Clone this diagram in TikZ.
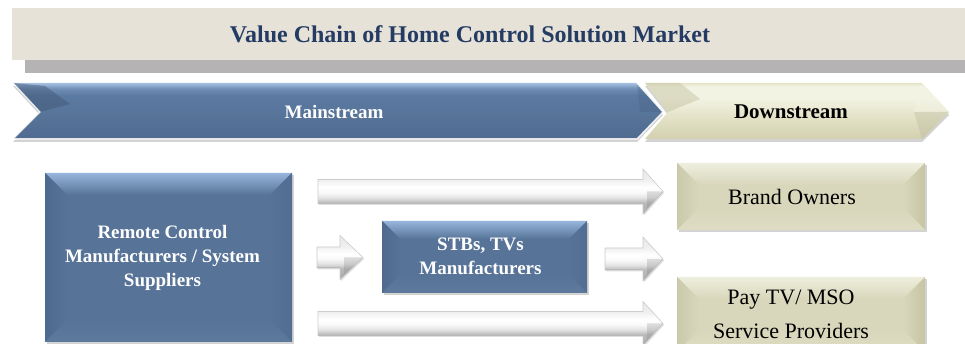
\documentclass[tikz,border=0pt]{standalone}
\usepackage{fontspec}
\setmainfont{Liberation Serif}
\usetikzlibrary{calc,shadows}

% palette
\definecolor{bannerbg}{HTML}{E6E2D8}
\definecolor{bannershadow}{HTML}{B5B3B3}
\definecolor{titleblue}{HTML}{243B63}
\definecolor{bluehi}{HTML}{A4C0E2}
\definecolor{bluemid}{HTML}{5B7AA2}
\definecolor{bluelow}{HTML}{506A90}
\definecolor{blueface}{HTML}{577398}
\definecolor{bluetop}{HTML}{96B5DA}
\definecolor{blueleft}{HTML}{4F6A8F}
\definecolor{blueright}{HTML}{516D92}
\definecolor{bluebottom}{HTML}{5D799C}
\definecolor{beigehi}{HTML}{F3F3E4}
\definecolor{beigemid}{HTML}{E4E3C8}
\definecolor{beigelow}{HTML}{D2D0AE}
\definecolor{beigeface}{HTML}{D8D7BB}
\definecolor{beigetop}{HTML}{EEEEDE}
\definecolor{beigeleft}{HTML}{CBC9AC}
\definecolor{beigeright}{HTML}{C6C4A3}
\definecolor{beigebottom}{HTML}{DEDDC4}

% vertical shadings (the filled path spans 25bp..75bp)
\pgfdeclareverticalshading{mainshade}{100bp}{
  color(0bp)=(bluelow); color(25bp)=(bluelow); color(45bp)=(blueface);
  color(64bp)=(bluemid); color(70bp)=(bluemid!70!bluehi); color(75bp)=(bluehi); color(100bp)=(bluehi)}
\pgfdeclareverticalshading{downshade}{100bp}{
  color(0bp)=(beigelow); color(25bp)=(beigelow); color(45bp)=(beigemid);
  color(62bp)=(beigehi); color(72bp)=(beigehi); color(75bp)=(beigemid); color(100bp)=(beigemid)}
\pgfdeclareverticalshading{arrowshade}{100bp}{
  color(0bp)=(gray!65); color(25bp)=(gray!65); color(37.5bp)=(gray!55);
  color(43bp)=(gray!22); color(49bp)=(gray!4); color(55bp)=(white);
  color(62.5bp)=(gray!12); color(75bp)=(gray!18); color(100bp)=(gray!18)}

\tikzset{
  bluebox/.style={rectangle, outer sep=0pt, inner sep=0pt,
    fill=blueface,
    drop shadow={shadow xshift=2pt, shadow yshift=-2pt, opacity=.35}},
  beigebox/.style={rectangle, outer sep=0pt, inner sep=0pt,
    fill=beigeface,
    drop shadow={shadow xshift=2pt, shadow yshift=-2.5pt, opacity=.35}},
  bluetext/.style={align=center, text=white, font=\fontsize{19}{24}\selectfont\bfseries},
  beigetext/.style={align=center, text=black, font=\fontsize{22}{34}\selectfont},
  blockarrowstyle/.style={shading=arrowshade, draw=gray!40, line width=.6pt,
    drop shadow={shadow xshift=1pt, shadow yshift=-1.5pt, opacity=.25}},
  chevronshadow/.style={drop shadow={shadow xshift=0pt, shadow yshift=-3pt, opacity=.35}},
}

% bevel facets on the four sides of a rectangular node
% #1 node, #2 bevel size, #3 top, #4 left, #5 right, #6 bottom, #7 face
\newcommand\bevelfacets[7]{%
  \path[top color=#3, bottom color=#7] (#1.north west) -- (#1.north east) -- ([xshift=-#2pt,yshift=-#2pt]#1.north east) -- ([xshift=#2pt,yshift=-#2pt]#1.north west) -- cycle;
  \path[left color=#4, right color=#7] (#1.north west) -- ([xshift=#2pt,yshift=-#2pt]#1.north west) -- ([xshift=#2pt,yshift=#2pt]#1.south west) -- (#1.south west) -- cycle;
  \path[right color=#5, left color=#7] (#1.north east) -- ([xshift=-#2pt,yshift=-#2pt]#1.north east) -- ([xshift=-#2pt,yshift=#2pt]#1.south east) -- (#1.south east) -- cycle;
  \path[bottom color=#6, top color=#7] (#1.south west) -- ([xshift=#2pt,yshift=#2pt]#1.south west) -- ([xshift=-#2pt,yshift=#2pt]#1.south east) -- (#1.south east) -- cycle;
}

% block arrow from #1 to #2 (along the y of #1): body half-width #3, head half-width #4, head length #5
\newcommand\blockarrow[5]{%
  \path[blockarrowstyle] let \p1=(#1), \p2=(#2) in
    (\x1,\y1+#3pt) -- (\x2-#5pt,\y1+#3pt) -- (\x2-#5pt,\y1+#4pt) -- (\x2,\y1)
    -- (\x2-#5pt,\y1-#4pt) -- (\x2-#5pt,\y1-#3pt) -- (\x1,\y1-#3pt) -- cycle;
  \fill[gray, opacity=.25] let \p1=(#1), \p2=(#2) in
    (\x2-#5pt+4pt,\y1) -- (\x2,\y1) -- (\x2-#5pt,\y1-#4pt) -- (\x2-#5pt+4pt,\y1-#4pt+6pt) -- cycle;
  \draw[gray!55, line width=1pt] let \p1=(#1), \p2=(#2) in
    (\x1,\y1-#3pt) -- (\x2-#5pt,\y1-#3pt);
}

\begin{document}
\begin{tikzpicture}[x=1pt,y=1pt]
\useasboundingbox (0,0) rectangle (965,344);

% title banner with its shadow strip
\fill[bannershadow] (25,271) rectangle (965,284);
\fill[bannerbg] (12,284) rectangle (965,336);
\node[text=titleblue, font=\fontsize{24}{28}\selectfont\bfseries] (title) at (470,310) {Value Chain of Home Control Solution Market};

% downstream chevron
\path[chevronshadow, shading=downshade]
  (645,261) -- (922,261) -- (949,232) -- (922,205) -- (645,205) -- (668,232) -- cycle;
\fill[beigehi, opacity=.5] (922,261) -- (949,232) -- (914,232) -- cycle;
\fill[beigelow!85!black, opacity=.3] (914,232) -- (949,232) -- (922,205) -- cycle;
\fill[beigeright, opacity=.5] (645,261) -- (668,232) -- (700,245) -- (680,261) -- cycle;
\node[text=black, font=\fontsize{21}{24}\selectfont\bfseries] (downstream) at (791,232) {Downstream};

% mainstream chevron
\path[chevronshadow, shading=mainshade]
  (13,261) -- (637,261) -- (663,232) -- (637,205) -- (13,205) -- (40,232) -- cycle;
\fill[blueleft!80!black, opacity=.45] (13,261) -- (40,232) -- (70,240) -- (45,258) -- cycle;
\fill[bluemid!80!black, opacity=.35] (637,261) -- (663,232) -- (640,232) -- cycle;
\draw[white, line width=1.2pt, opacity=.85] (13,261) -- (40,232) -- (13,205);
\draw[white, line width=1.5pt, opacity=.85] (637,261) -- (663,232) -- (637,205) -- (13,205);
\node[text=white, font=\fontsize{19}{24}\selectfont\bfseries] (mainstream) at (334,232) {Mainstream};

% players
\node[bluebox, minimum width=247pt, minimum height=169pt] (remote) at (168.5,86.5) {};
\bevelfacets{remote}{22}{bluetop}{blueleft}{blueright}{bluebottom}{blueface}
\node[bluetext] (remotetext) at ([xshift=-6pt]remote.center)
  {Remote Control\\Manufacturers / System\\Suppliers};

\node[bluebox, minimum width=205pt, minimum height=72pt] (stb) at (484.5,87) {};
\bevelfacets{stb}{18}{bluetop}{blueleft}{blueright}{bluebottom}{blueface}
\node[bluetext] (stbtext) at ([xshift=-4pt,yshift=1pt]stb.center) {STBs, TVs\\Manufacturers};

\node[beigebox, minimum width=248pt, minimum height=67pt] (brand) at (801,147.5) {};
\bevelfacets{brand}{22}{beigetop}{beigeleft}{beigeright}{beigebottom}{beigeface}
\node[beigetext] (brandtext) at ([xshift=-9pt]brand.center) {Brand Owners};

\node[beigebox, minimum width=248pt, minimum height=75pt] (pay) at (801,29.5) {};
\bevelfacets{pay}{22}{beigetop}{beigeleft}{beigeright}{beigebottom}{beigeface}
\node[beigetext] (paytext) at ([xshift=-10pt]pay.center) {Pay TV/ MSO\\Service Providers};

% flows between the players
\coordinate (a1s) at ($(remote.north east)+(26,-18.5)$);
\coordinate (a1e) at ($(brand.west)+(-14,5)$);
\blockarrow{a1s}{a1e}{12}{22.5}{20}

\coordinate (a2s) at ($(remote.east)+(25,0)$);
\coordinate (a2e) at ($(stb.west)+(-19,0)$);
\blockarrow{a2s}{a2e}{10.5}{22}{23}

\coordinate (a3s) at ($(stb.east)+(18,-2)$);
\coordinate (a3e) at ($(brand.west)+(-14,-62.5)$);
\blockarrow{a3s}{a3e}{11}{22}{20}

\coordinate (a4s) at ($(remote.south east)+(26,18.5)$);
\coordinate (a4e) at ($(pay.west)+(-14,-9)$);
\blockarrow{a4s}{a4e}{12}{22}{20}
\end{tikzpicture}
\end{document}
